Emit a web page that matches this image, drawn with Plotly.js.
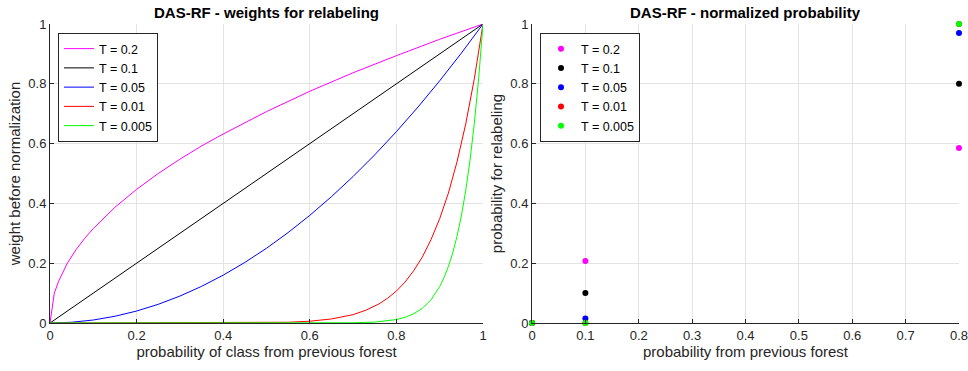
<!DOCTYPE html>
<html><head><meta charset="utf-8">
<script src="https://cdn.plot.ly/plotly-3.0.1.min.js"></script>
<style>html,body{margin:0;padding:0;background:#fff}#chart{width:968px;height:371px}</style>
</head><body><div id="chart"></div>
<script>
// ---- data ----
const seriesNames = ["T = 0.2", "T = 0.1", "T = 0.05", "T = 0.01", "T = 0.005"];
const seriesColors = ["#ff00ff", "#000000", "#0000ff", "#ff0000", "#00ff00"];

// left panel: weight before normalization vs probability of class
const xT02 = [0, 0.01, 0.02, 0.03, 0.04, 0.06, 0.08, 0.1, 0.15, 0.2, 0.25, 0.3, 0.35, 0.4, 0.5, 0.6, 0.7, 0.8, 0.9, 1];
const yT02 = [0, 0.10, 0.14, 0.173, 0.20, 0.245, 0.283, 0.316, 0.387, 0.447, 0.5, 0.548, 0.592, 0.632, 0.707, 0.775, 0.837, 0.894, 0.949, 1];
const xT01 = [0, 1];
const yT01 = [0, 1];
const xT005 = [0, 0.05, 0.1, 0.15, 0.2, 0.25, 0.3, 0.35, 0.4, 0.45, 0.5, 0.55, 0.6, 0.65, 0.7, 0.75, 0.8, 0.85, 0.9, 0.95, 1];
const yT005 = [0, 0.0025, 0.01, 0.0225, 0.04, 0.0625, 0.09, 0.1225, 0.16, 0.2025, 0.25, 0.3025, 0.36, 0.4225, 0.49, 0.5625, 0.64, 0.7225, 0.81, 0.9025, 1];
const xT001 = [0, 0.3, 0.4, 0.5, 0.55, 0.6, 0.65, 0.7, 0.73, 0.76, 0.78, 0.8, 0.82, 0.84, 0.86, 0.88, 0.9, 0.92, 0.94, 0.96, 0.98, 1];
const yT001 = [0, 0, 0.0001, 0.001, 0.0025, 0.006, 0.0135, 0.028, 0.043, 0.064, 0.083, 0.107, 0.137, 0.175, 0.221, 0.279, 0.349, 0.434, 0.539, 0.665, 0.817, 1];
const xT0005 = [0, 0.6, 0.7, 0.75, 0.8, 0.82, 0.84, 0.86, 0.88, 0.9, 0.91, 0.92, 0.93, 0.94, 0.95, 0.96, 0.97, 0.98, 0.99, 1];
const yT0005 = [0, 0, 0.0008, 0.003, 0.0115, 0.019, 0.031, 0.049, 0.078, 0.122, 0.152, 0.189, 0.234, 0.29, 0.358, 0.442, 0.544, 0.668, 0.818, 1];

// right panel: normalized probability for relabeling
const probX = [0, 0.1, 0.8];
const pT02 = [0, 0.207, 0.585];
const pT01 = [0, 0.1, 0.8];
const pT005 = [0, 0.015, 0.97];
const pT001 = [0, 0, 1];
const pT0005 = [0, 0, 1];

const leftTicks = [0, 0.2, 0.4, 0.6, 0.8, 1];
const leftTickText = ['0', '0.2', '0.4', '0.6', '0.8', '1'];
const rightXTicks = [0, 0.1, 0.2, 0.3, 0.4, 0.5, 0.6, 0.7, 0.8];
const rightXTickText = ['0', '0.1', '0.2', '0.3', '0.4', '0.5', '0.6', '0.7', '0.8'];

const leftX = [xT02, xT01, xT005, xT001, xT0005];
const leftY = [yT02, yT01, yT005, yT001, yT0005];
const rightY = [pT02, pT01, pT005, pT001, pT0005];

const FONT = 'Liberation Sans, Arial, sans-serif';
const traces = [];
for (let i = 0; i < seriesNames.length; i++) {
  traces.push({
    x: leftX[i], y: leftY[i], type: 'scatter', mode: 'lines',
    name: seriesNames[i], line: {color: seriesColors[i], width: 1},
    xaxis: 'x', yaxis: 'y', legend: 'legend'
  });
}
for (let i = 0; i < seriesNames.length; i++) {
  traces.push({
    x: probX, y: rightY[i], type: 'scatter', mode: 'markers',
    name: seriesNames[i], marker: {color: seriesColors[i], size: 6},
    cliponaxis: false,
    xaxis: 'x2', yaxis: 'y2', legend: 'legend2'
  });
}

const W = 968, H = 371;
const fx = p => p / W;
const fy = p => (H - p) / H;
const axisCommon = {
  showline: true, linecolor: '#262626', linewidth: 1, mirror: false,
  ticks: 'inside', ticklen: 4, tickcolor: '#262626',
  showgrid: true, gridcolor: '#e3e3e3', gridwidth: 1,
  zeroline: false, ticklabeloverflow: 'allow',
  tickfont: {family: FONT, size: 13, color: '#262626'}
};
const titleFont = {family: FONT, size: 15, color: '#262626'};
const legendCommon = {
  xanchor: 'left', yanchor: 'top', xref: 'paper', yref: 'paper',
  bgcolor: '#fff', bordercolor: '#262626', borderwidth: 1,
  font: {family: FONT, size: 12.5, color: '#000'},
  tracegroupgap: 0, itemwidth: 30
};

const layout = {
  width: W, height: H,
  margin: {l: 0, r: 0, t: 0, b: 0},
  paper_bgcolor: '#fff', plot_bgcolor: '#fff',
  font: {family: FONT, color: '#262626'},
  xaxis: Object.assign({}, axisCommon, {
    domain: [fx(50), fx(483)], range: [0, 1], tickvals: leftTicks, ticktext: leftTickText, anchor: 'y',
    title: {text: 'probability of class from previous forest', font: titleFont, standoff: 4}
  }),
  yaxis: Object.assign({}, axisCommon, {
    domain: [fy(323), fy(24)], range: [0, 1], tickvals: leftTicks, ticktext: leftTickText, anchor: 'x',
    title: {text: 'weight before normalization', font: titleFont, standoff: 4}
  }),
  xaxis2: Object.assign({}, axisCommon, {
    domain: [fx(532), fx(959)], range: [0, 0.8], tickvals: rightXTicks, ticktext: rightXTickText, anchor: 'y2',
    title: {text: 'probability from previous forest', font: titleFont, standoff: 4}
  }),
  yaxis2: Object.assign({}, axisCommon, {
    domain: [fy(323), fy(24)], range: [0, 1], tickvals: leftTicks, ticktext: leftTickText, anchor: 'x2',
    title: {text: 'probability for relabeling', font: titleFont, standoff: 4}
  }),
  legend: Object.assign({}, legendCommon, {x: fx(58), y: fy(33)}),
  legend2: Object.assign({}, legendCommon, {x: fx(540), y: fy(33)}),
  annotations: [
    {text: '<b>DAS-RF - weights for relabeling</b>', x: (fx(50) + fx(483)) / 2, y: fy(12),
     xref: 'paper', yref: 'paper', showarrow: false, xanchor: 'center', yanchor: 'middle',
     font: {family: FONT, size: 15, color: '#000'}},
    {text: '<b>DAS-RF - normalized probability</b>', x: (fx(532) + fx(959)) / 2, y: fy(12),
     xref: 'paper', yref: 'paper', showarrow: false, xanchor: 'center', yanchor: 'middle',
     font: {family: FONT, size: 15, color: '#000'}}
  ]
};

Plotly.newPlot('chart', traces, layout, {displayModeBar: false, staticPlot: true});
</script>
</body></html>
